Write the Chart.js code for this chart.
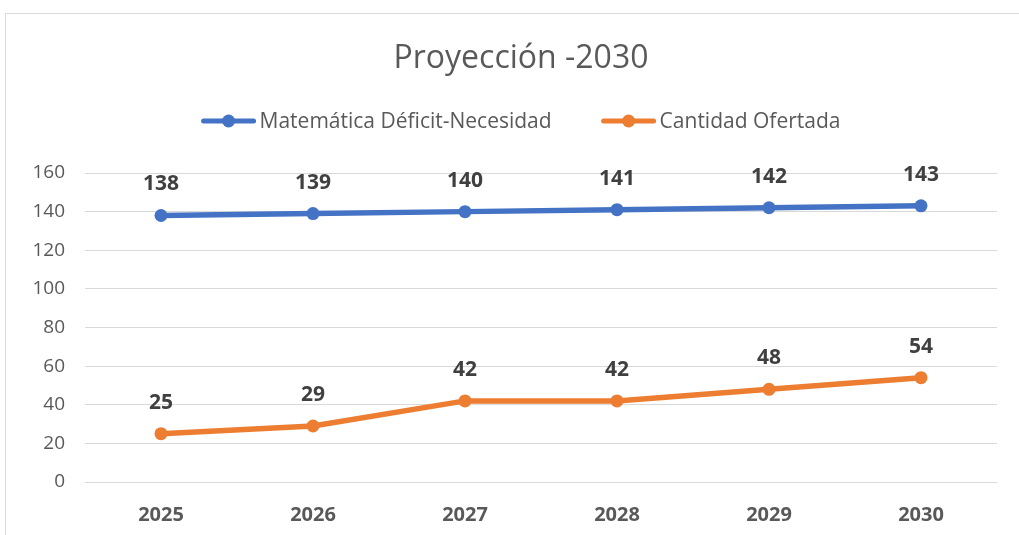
<!DOCTYPE html>
<html><head><meta charset="utf-8">
<script src="https://cdn.jsdelivr.net/npm/chart.js@4"></script>
<style>
html,body{margin:0;padding:0;overflow:hidden;background:#fff;width:1019px;height:535px}
#wrap{position:absolute;left:5px;top:13px;width:1030px;height:540px;border:1px solid #d9d9d9;background:#fff}
canvas{display:block}
</style></head><body>
<div id="wrap"><canvas id="c" width="1030" height="540"></canvas></div>
<script>
const years = ['2025', '2026', '2027', '2028', '2029', '2030'];
const deficit = [138, 139, 140, 141, 142, 143];
const ofertada = [25, 29, 42, 42, 48, 54];
const seriesNames = ['Matemática Déficit-Necesidad', 'Cantidad Ofertada'];
const seriesColors = ['#4472C4', '#ED7D31'];
const titleText = 'Proyección -2030';
const yMin = 0, yMax = 160, yStep = 20;

const FONT = '"Open Sans", "Liberation Sans", sans-serif';

const dataLabels = {
  id: 'dataLabels',
  afterDatasetsDraw(chart) {
    const ctx = chart.ctx;
    ctx.save();
    ctx.font = 'bold 21px ' + FONT;
    ctx.fillStyle = '#404040';
    ctx.textAlign = 'center';
    ctx.textBaseline = 'middle';
    chart.data.datasets.forEach((ds, i) => {
      chart.getDatasetMeta(i).data.forEach((pt, j) => {
        ctx.fillText(String(ds.data[j]), pt.x, pt.y - 31);
      });
    });
    ctx.restore();
  }
};

const customLegend = {
  id: 'customLegend',
  afterDraw(chart) {
    const ctx = chart.ctx;
    ctx.save();
    ctx.font = '21px ' + FONT;
    ctx.textBaseline = 'middle';
    ctx.textAlign = 'left';
    const markerW = 54, gapText = 4, gapItem = 50;
    const items = chart.data.datasets.map(ds => ({ label: ds.label, color: ds.borderColor, w: ctx.measureText(ds.label).width }));
    let total = 0;
    items.forEach((it, i) => { total += markerW + gapText + it.w + (i ? gapItem : 0); });
    let x = chart.width / 2 - total / 2;
    const y = 107;
    items.forEach((it, i) => {
      if (i) x += gapItem;
      ctx.strokeStyle = it.color;
      ctx.lineWidth = 5;
      ctx.lineCap = 'round';
      ctx.beginPath();
      ctx.moveTo(x + 2, y);
      ctx.lineTo(x + markerW - 2, y);
      ctx.stroke();
      ctx.fillStyle = it.color;
      ctx.beginPath();
      ctx.arc(x + markerW / 2, y, 6.5, 0, Math.PI * 2);
      ctx.fill();
      x += markerW + gapText;
      ctx.fillStyle = '#595959';
      ctx.fillText(it.label, x, y + 1);
      x += it.w;
    });
    ctx.restore();
  }
};

new Chart(document.getElementById('c'), {
  type: 'line',
  data: {
    labels: years,
    datasets: [
      { label: seriesNames[0], data: deficit, borderColor: seriesColors[0], backgroundColor: seriesColors[0],
        borderWidth: 5.5, pointRadius: 6.5, pointHoverRadius: 6.5, pointBorderWidth: 0, tension: 0 },
      { label: seriesNames[1], data: ofertada, borderColor: seriesColors[1], backgroundColor: seriesColors[1],
        borderWidth: 5.5, pointRadius: 6.5, pointHoverRadius: 6.5, pointBorderWidth: 0, tension: 0 }
    ]
  },
  options: {
    responsive: false,
    animation: false,
    layout: { padding: { top: 0, left: 0, right: 0, bottom: 6 } },
    plugins: {
      legend: { display: false },
      tooltip: { enabled: false },
      title: {
        display: true, text: titleText, color: '#595959',
        font: { family: FONT, size: 32, weight: 'normal', lineHeight: 1.2 },
        padding: { top: 26, bottom: 94.6 }
      }
    },
    scales: {
      x: {
        offset: true,
        grid: { display: false, drawTicks: false },
        border: { display: false },
        ticks: { color: '#595959', font: { family: FONT, size: 20, weight: 'bold', lineHeight: 1.2 }, padding: 21, maxRotation: 0 }
      },
      y: {
        min: yMin, max: yMax,
        grid: { color: '#d9d9d9', lineWidth: 1, drawTicks: false },
        border: { display: false },
        ticks: { stepSize: yStep, color: '#595959', font: { family: FONT, size: 19, lineHeight: 1.2 }, padding: 20 },
        afterFit(scale) { scale.width = 79; }
      },
      yRight: {
        position: 'right',
        min: yMin, max: yMax,
        grid: { display: false, drawTicks: false },
        border: { display: false },
        ticks: { display: false },
        afterFit(scale) { scale.width = 39; }
      }
    }
  },
  plugins: [dataLabels, customLegend]
});
</script>
</body></html>
